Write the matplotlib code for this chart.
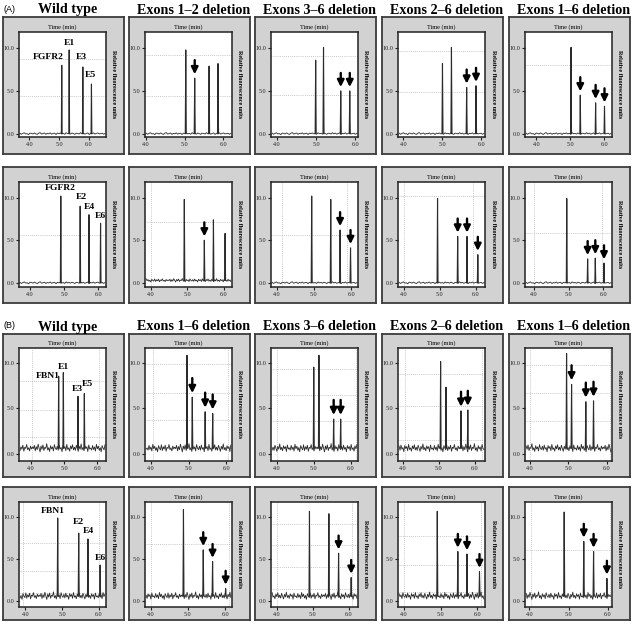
import matplotlib.pyplot as plt
import numpy as np

# ---- data ----
titles_a = ["Wild type", "Exons 1–2 deletion", "Exons 3–6 deletion",
            "Exons 2–6 deletion", "Exons 1–6 deletion"]
titles_b = ["Wild type", "Exons 1–6 deletion", "Exons 3–6 deletion",
            "Exons 2–6 deletion", "Exons 1–6 deletion"]

# peak times (min) and heights (RFU) per panel, rows A1, A2, B1, B2
a1_times = [[5.09, 5.34, 5.80, 6.09], [5.03, 5.26, 5.63, 5.86], [4.99, 5.19, 5.63, 5.86],
            [5.00, 5.23, 5.62, 5.86], [5.02, 5.29, 5.74, 6.00]]
a1_heights = [[8.0, 9.8, 7.8, 5.8], [9.8, 6.5, 7.9, 8.2], [8.6, 10.1, 5.0, 5.0],
              [8.2, 10.1, 5.4, 5.6], [10.1, 4.5, 3.6, 3.2]]
a1_arrows = [[], [1], [2, 3], [2, 3], [1, 2, 3]]
a1_xlims = [(3.65, 6.58), (3.98, 6.22), (3.85, 6.07), (3.86, 6.09), (3.67, 6.22)]

a2_times = [[4.90, 5.47, 5.73, 6.07], [4.92, 5.47, 5.72, 6.04], [4.94, 5.45, 5.70, 5.98],
            [4.94, 5.50, 5.76, 6.06], [4.95, 5.55, 5.77, 6.02]]
a2_heights = [[10.2, 9.0, 8.0, 7.0], [9.8, 5.0, 7.4, 5.8], [10.2, 9.8, 6.2, 4.1],
              [9.9, 5.45, 5.45, 3.3], [9.9, 2.8, 2.9, 2.3]]
a2_arrows = [[], [1], [2, 3], [1, 2, 3], [1, 2, 3]]
a2_xlims = [(3.67, 6.23), (3.84, 6.23), (3.85, 6.18), (3.84, 6.26), (3.75, 6.25)]

b1_times = [[4.84, 4.98, 5.42, 5.61], [4.96, 5.10, 5.44, 5.64], [5.00, 5.14, 5.54, 5.73],
            [5.05, 5.20, 5.62, 5.81], [4.96, 5.09, 5.46, 5.66]]
b1_heights = [[8.5, 8.9, 6.3, 6.6], [10.8, 6.2, 4.6, 4.4], [9.5, 10.8, 3.8, 3.8],
              [10.1, 7.3, 4.7, 4.8], [11.0, 7.6, 5.7, 5.8]]
b1_arrows = [[], [1, 2, 3], [2, 3], [2, 3], [1, 2, 3]]
b1_xlims = [(3.65, 6.26), (3.85, 6.15), (3.84, 6.20), (3.86, 6.29), (3.88, 6.14)]

b2_times = [[4.88, 5.45, 5.70, 6.03], [4.88, 5.41, 5.66, 6.01], [4.91, 5.45, 5.72, 6.07],
            [4.91, 5.47, 5.72, 6.06], [4.89, 5.39, 5.64, 5.98]]
b2_heights = [[9.9, 8.1, 7.4, 4.3], [10.9, 6.1, 4.7, 1.5], [10.7, 10.4, 5.7, 2.8],
              [10.7, 5.9, 5.6, 3.5], [10.6, 7.1, 5.9, 2.7]]
b2_arrows = [[], [1, 2, 3], [2, 3], [1, 2, 3], [1, 2, 3]]
b2_xlims = [(3.83, 6.19), (3.85, 6.18), (3.84, 6.26), (3.84, 6.21), (3.89, 6.11)]

a1_labels = ["FGFR2", "E1", "E3", "E5"]
a2_labels = ["FGFR2", "E2", "E4", "E6"]
b1_labels = ["FBN1", "E1", "E3", "E5"]
b2_labels = ["FBN1", "E2", "E4", "E6"]

# baseline wiggle of the traces
noise_fine = [0.05, -0.08, 0.02, 0.10, -0.04, 0.00, -0.12, 0.06, 0.03, -0.05, 0.08, -0.02,
              -0.10, 0.04, 0.12, -0.06, 0.01, 0.07, -0.09, 0.03, -0.03, 0.09, -0.07, 0.02,
              0.05, -0.11, 0.06, -0.01, 0.08, -0.04, 0.03, -0.08, 0.10, -0.02, 0.04, -0.06,
              0.07, 0.00, -0.09, 0.05, 0.02, -0.05, 0.11, -0.03, 0.06, -0.07, 0.01, 0.08,
              -0.10, 0.04, -0.02, 0.09, -0.06, 0.03, 0.07, -0.04, 0.00, 0.05, -0.08, 0.02]
noise_rough = [0.55, 0.92, 0.31, 0.78, 0.44, 1.05, 0.62, 0.20, 0.85, 0.48, 0.97, 0.35, 0.70,
               0.58, 1.10, 0.40, 0.66, 0.25, 0.88, 0.52, 0.75, 0.30, 1.00, 0.60, 0.45, 0.82,
               0.38, 0.95, 0.50, 0.68, 0.22, 0.90, 0.57, 0.79, 0.33, 1.02, 0.47, 0.64, 0.28,
               0.86, 0.53, 0.99, 0.41, 0.72, 0.36, 0.93, 0.59, 0.26, 0.81, 0.49, 1.07, 0.43,
               0.69, 0.32, 0.87, 0.56, 0.77, 0.24, 0.96, 0.51, 0.63, 0.39, 0.91, 0.46, 0.74,
               0.29, 1.03, 0.54, 0.83, 0.37, 0.67, 0.21, 0.89, 0.61, 0.42, 0.98, 0.34, 0.76,
               0.50, 0.94, 0.27, 0.71, 0.58, 1.01, 0.45, 0.65, 0.30, 0.84, 0.52, 0.73]

# ---- layout / style ----
W, H = 633, 625
SERIF = ["Liberation Serif", "DejaVu Serif"]
col_left = [3, 129, 255, 382, 509]
BOX_W = 121
# box top, box bottom, plot top, plot bottom (pixels from top)
row_px = [(17, 154, 32, 137), (167, 303, 182, 287), (334, 477, 348, 461), (487, 620, 502, 607)]
row_ylim = [(-0.4, 11.9), (-0.5, 11.85), (-0.8, 11.6), (-0.7, 11.8)]

hgrids = [[[8.7, 4.35], [9.2, 4.4], [9.1, 4.5], [9.7, 4.9], [8.0]],
          [[5.6], [7.1], [5.6], [10.2], [5.8]],
          [[8.0, 4.8, 1.8], [9.8, 6.7, 3.7], [9.3, 6.4, 3.6, 0.7], [8.8, 5.2, 1.5], [9.7, 6.7, 3.6]],
          [[6.9, 3.6, 1.0], [6.8, 0.6], [9.2, 6.7, 4.1, 1.5], [7.7, 4.3, 1.1], [6.1]]]
vgrids = [[[], [], [], [], []],
          [[], [4.0], [4.15, 5.88], [4.0, 5.94], [4.0, 5.95]],
          [[4.05, 6.05], [4.05, 6.05], [4.0, 6.15], [4.05, 6.2], [4.0, 6.1]],
          [[3.95, 6.0], [4.0, 6.1], [4.0, 6.1], [4.0, 6.1], [4.05, 6.05]]]
noise_kind = [[0, 0, 0, 0, 0], [0, 2, 0, 0, 0], [1] * 5, [1] * 5]

# label offsets (dx, dy, ha) for the wild-type panels
label_pos = [[(0.08, 1.0, "right"), (0, 0.8, "center"), (-0.05, 1.2, "center"), (-0.02, 1.1, "center")],
             [(-0.03, 1.0, "center"), (0.03, 1.1, "center"), (0.02, 0.9, "center"), (-0.02, 0.8, "center")],
             [(0.03, 0.0, "right"), (0, 0.6, "center"), (-0.02, 0.8, "center"), (0.1, 1.1, "center")],
             [(-0.14, 0.8, "center"), (0, 1.3, "center"), (0, 0.9, "center"), (0, 0.8, "center")]]

rows = [(a1_times, a1_heights, a1_arrows, a1_xlims, a1_labels),
        (a2_times, a2_heights, a2_arrows, a2_xlims, a2_labels),
        (b1_times, b1_heights, b1_arrows, b1_xlims, b1_labels),
        (b2_times, b2_heights, b2_arrows, b2_xlims, b2_labels)]

fig = plt.figure(figsize=(W / 100, H / 100), dpi=100)


def px_axes(x0, y0, x1, y1):
    return fig.add_axes([x0 / W, 1 - y1 / H, (x1 - x0) / W, (y1 - y0) / H])


trace_col = "#2b2b2b"
for r, (times, heights, arrows, xlims, labels) in enumerate(rows):
    bt, bb, pt, pb = row_px[r]
    for c in range(5):
        cl = col_left[c]
        box = px_axes(cl, bt, cl + BOX_W, bb)
        box.set_facecolor("#d2d2d2")
        box.set_xticks([])
        box.set_yticks([])
        for s in box.spines.values():
            s.set_linewidth(1.3)
            s.set_color("#3c3c3c")

        ax = px_axes(cl + 16, pt, cl + 103, pb)
        ax.set_xlim(*xlims[c])
        ax.set_ylim(*row_ylim[r])
        for s in ax.spines.values():
            s.set_linewidth(1.1)
            s.set_color("#222222")
        ax.set_xticks([4.0, 5.0, 6.0])
        ax.set_yticks([0.0, 5.0, 10.0])
        ax.set_xticklabels(["4.0", "5.0", "6.0"], family=SERIF)
        ax.set_yticklabels(["0.0", "5.0", "10.0"], family=SERIF)
        ax.tick_params(direction="out", length=2.3, width=0.8, labelsize=4.4, pad=1.0,
                       colors="#222222")

        for g in hgrids[r][c]:
            ax.axhline(g, color="#b5b5b5", lw=0.6, ls=(0, (1, 1.5)), zorder=0)
        for g in vgrids[r][c]:
            ax.axvline(g, color="#b5b5b5", lw=0.6, ls=(0, (1, 1.5)), zorder=0)

        kind = noise_kind[r][c]
        if kind == 0:
            base_vals = np.array(noise_fine)
            base = 0.0
        else:
            shift = (c * 17 + r * 7) % len(noise_rough)
            base_vals = np.roll(np.array(noise_rough), shift)
            if kind == 2:
                base_vals = base_vals * 0.45
            base = float(np.mean(base_vals))
        xs = np.linspace(xlims[c][0] + 0.03, xlims[c][1] - 0.03, len(base_vals))
        ax.plot(xs, base_vals, color=trace_col, lw=0.6)

        w = 0.013
        for t, h in zip(times[c], heights[c]):
            ax.plot([t - w, t, t + w], [base, h, base], color=trace_col, lw=0.8)

        for i in arrows[c]:
            t, h = times[c][i], heights[c][i]
            ax.annotate("", xy=(t, h + 0.45), xytext=(t, h + 2.1),
                        arrowprops=dict(arrowstyle="-|>", color="k", lw=1.7,
                                        mutation_scale=10, shrinkA=0, shrinkB=0))

        if c == 0:
            for lab, t, h, (dx, dy, ha) in zip(labels, times[c], heights[c], label_pos[r]):
                ax.text(t + dx, h + dy, lab, ha=ha, va="center", fontsize=6.8,
                        fontweight="bold", family=SERIF)

        fig.text((cl + 16 + cl + 103) / 2 / W, 1 - (pt - 5) / H, "Time (min)",
                 ha="center", va="center", fontsize=4.5, family=SERIF)
        fig.text((cl + 111) / W, 1 - (pt + pb) / 2 / H, "Relative fluorescence units",
                 ha="center", va="center", rotation=270, fontsize=4.3,
                 fontweight="bold", family=SERIF)

        title = titles_a[c] if r == 0 else (titles_b[c] if r == 2 else None)
        if title:
            fig.text((cl + BOX_W / 2 + 4) / W, 1 - (bt - 7) / H, title, ha="center",
                     va="center", fontsize=10.2, fontweight="bold", family=SERIF)

fig.text(3 / W, 1 - 9 / H, "(A)", ha="left", va="center", fontsize=6.5,
         family=["Liberation Sans", "DejaVu Sans"])
fig.text(3 / W, 1 - 325 / H, "(B)", ha="left", va="center", fontsize=6.5,
         family=["Liberation Sans", "DejaVu Sans"])

fig.savefig("out.png", dpi=100)
